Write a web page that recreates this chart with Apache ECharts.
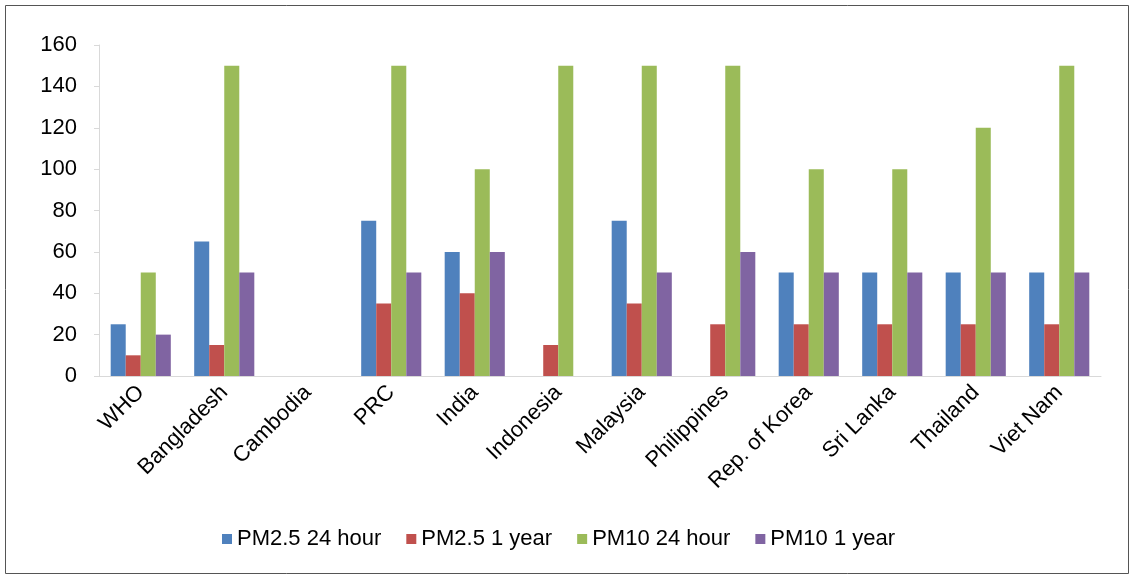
<!DOCTYPE html>
<html>
<head>
<meta charset="utf-8">
<script src="https://cdn.jsdelivr.net/npm/echarts@6/dist/echarts.min.js"></script>
<style>
html, body { margin: 0; padding: 0; background: #fff; }
#chart { width: 1134px; height: 579px; }
</style>
</head>
<body>
<div id="chart"></div>
<script>
var countries = ['WHO', 'Bangladesh', 'Cambodia', 'PRC', 'India', 'Indonesia', 'Malaysia', 'Philippines', 'Rep. of Korea', 'Sri Lanka', 'Thailand', 'Viet Nam'];
var pm25Day = [25, 65, null, 75, 60, null, 75, null, 50, 50, 50, 50];
var pm25Year = [10, 15, null, 35, 40, 15, 35, 25, 25, 25, 25, 25];
var pm10Day = [50, 150, null, 150, 100, 150, 150, 150, 100, 100, 120, 150];
var pm10Year = [20, 50, null, 50, 60, null, 50, 60, 50, 50, 50, 50];

var font = 'Liberation Sans, Arial, sans-serif';

function bar(name, data, color) {
    return {
        name: name,
        type: 'bar',
        data: data,
        barGap: '0%',
        barCategoryGap: '28%',
        itemStyle: { color: color }
    };
}

var myChart = echarts.init(document.getElementById('chart'));
myChart.setOption({
    animation: false,
    graphic: [{
        type: 'rect',
        shape: { x: 5.5, y: 5.5, width: 1123, height: 568 },
        style: { fill: 'none', stroke: '#555', lineWidth: 1 }
    }],
    grid: { left: 99, right: 33, top: 45, bottom: 203 },
    legend: {
        top: 523,
        left: 217,
        itemWidth: 10,
        itemHeight: 10,
        itemGap: 25,
        icon: 'rect',
        formatter: '{t|{name}}',
        textStyle: {
            fontFamily: font, fontSize: 22, color: '#000',
            rich: { t: { fontFamily: font, fontSize: 22, color: '#000', width: 146 } }
        }
    },
    xAxis: {
        type: 'category',
        data: countries,
        axisLine: { lineStyle: { color: '#d9d9d9' } },
        axisTick: { show: false },
        axisLabel: { rotate: 45, interval: 0, fontFamily: font, fontSize: 22, color: '#000', margin: 13 }
    },
    yAxis: {
        type: 'value',
        min: 0,
        max: 160,
        interval: 20,
        splitLine: { show: false },
        axisLine: { show: true, lineStyle: { color: '#d9d9d9' } },
        axisTick: { show: true, length: 5, lineStyle: { color: '#d9d9d9' } },
        axisLabel: { fontFamily: font, fontSize: 22, color: '#000', margin: 22 }
    },
    series: [
        bar('PM2.5 24 hour', pm25Day, '#4f81bd'),
        bar('PM2.5 1 year', pm25Year, '#c0504d'),
        bar('PM10 24 hour', pm10Day, '#9bbb59'),
        bar('PM10 1 year', pm10Year, '#8064a2')
    ]
});
</script>
</body>
</html>
